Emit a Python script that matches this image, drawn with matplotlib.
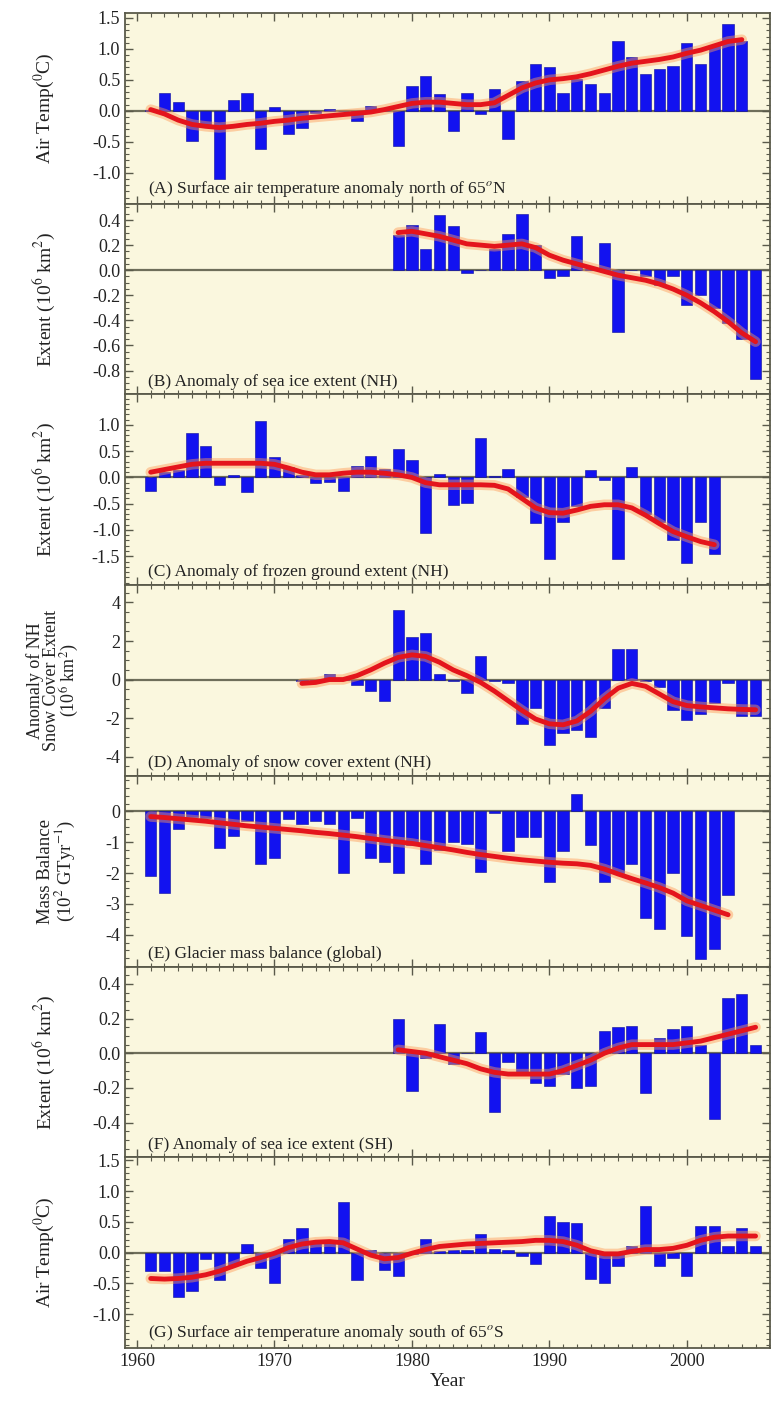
import numpy as np
import matplotlib
matplotlib.use('Agg')
import matplotlib.pyplot as plt
from matplotlib.ticker import MultipleLocator, FormatStrFormatter

plt.rcParams['font.family'] = ['Liberation Serif', 'DejaVu Serif']
plt.rcParams['mathtext.fontset'] = 'stix'

# ---------------- data ----------------
years_a = list(range(1961, 2005))
bars_a = [0.02, 0.28, 0.15, -0.48, -0.25, -1.1, 0.17, 0.29, -0.62, 0.06,
          -0.38, -0.27, -0.03, 0.03, 0.0, -0.17, 0.08, 0.0, -0.57, 0.4,
          0.56, 0.27, -0.33, 0.28, -0.05, 0.35, -0.45, 0.48, 0.75, 0.7,
          0.28, 0.52, 0.43, 0.28, 1.12, 0.87, 0.6, 0.68, 0.72, 1.1,
          0.76, 1.06, 1.4, 1.13]
trend_a = [0.02, -0.05, -0.15, -0.22, -0.25, -0.27, -0.25, -0.22, -0.2, -0.17,
           -0.15, -0.12, -0.1, -0.08, -0.06, -0.04, -0.02, 0.02, 0.07, 0.12,
           0.14, 0.14, 0.12, 0.1, 0.1, 0.13, 0.25, 0.37, 0.45, 0.5,
           0.52, 0.55, 0.6, 0.66, 0.72, 0.77, 0.8, 0.83, 0.87, 0.93,
           0.98, 1.05, 1.12, 1.15]

years_b = list(range(1979, 2006))
bars_b = [0.28, 0.36, 0.17, 0.44, 0.35, -0.02, 0.0, 0.17, 0.29, 0.45,
          0.2, -0.06, -0.05, 0.27, 0.01, 0.22, -0.49, 0.0, -0.05, -0.12,
          -0.05, -0.28, -0.2, -0.3, -0.42, -0.55, -0.87]
trend_b = [0.3, 0.31, 0.29, 0.27, 0.24, 0.21, 0.2, 0.19, 0.2, 0.21,
           0.18, 0.12, 0.08, 0.05, 0.02, -0.01, -0.04, -0.06, -0.08, -0.11,
           -0.15, -0.2, -0.26, -0.33, -0.41, -0.5, -0.57]

years_c = list(range(1961, 2003))
bars_c = [-0.26, 0.1, 0.15, 0.85, 0.6, -0.15, 0.05, -0.28, 1.07, 0.38,
          0.2, 0.05, -0.1, -0.08, -0.26, 0.22, 0.4, 0.17, 0.54, 0.33,
          -1.05, 0.07, -0.52, -0.48, 0.75, 0.03, 0.17, -0.38, -0.87, -1.55,
          -0.84, -0.55, 0.15, -0.05, -1.55, 0.2, -0.7, -0.85, -1.2, -1.62,
          -0.85, -1.45]
trend_c = [0.1, 0.15, 0.2, 0.25, 0.27, 0.27, 0.27, 0.27, 0.27, 0.25,
           0.18, 0.1, 0.05, 0.05, 0.08, 0.1, 0.1, 0.08, 0.05, 0.0,
           -0.1, -0.14, -0.14, -0.14, -0.14, -0.15, -0.22, -0.4, -0.58, -0.67,
           -0.68, -0.62, -0.55, -0.52, -0.52, -0.58, -0.72, -0.88, -1.03, -1.13,
           -1.22, -1.28]

years_d = list(range(1972, 2006))
bars_d = [-0.1, -0.1, 0.3, 0.1, -0.3, -0.6, -1.1, 3.6, 2.2, 2.4,
          0.3, -0.1, -0.7, 1.2, -0.1, -0.2, -2.3, -1.5, -3.4, -2.8,
          -2.6, -3.0, -1.5, 1.6, 1.6, -0.1, -0.4, -1.6, -2.1, -1.8,
          -1.2, -0.2, -1.9, -1.9]
trend_d = [-0.2, -0.15, 0.0, 0.0, 0.2, 0.5, 0.85, 1.15, 1.28, 1.2,
           0.9, 0.5, 0.2, -0.15, -0.6, -1.1, -1.6, -2.05, -2.3, -2.35,
           -2.15, -1.65, -1.0, -0.45, -0.2, -0.35, -0.75, -1.15, -1.35, -1.42,
           -1.47, -1.52, -1.55, -1.57]

years_e = list(range(1961, 2004))
bars_e = [-2.1, -2.65, -0.57, -0.18, -0.2, -1.2, -0.8, -0.3, -1.7, -1.5,
          -0.25, -0.4, -0.3, -0.4, -2.0, -0.2, -1.5, -1.65, -2.0, -1.1,
          -1.7, -1.25, -1.0, -1.05, -1.95, -0.05, -1.3, -0.83, -0.83, -2.3,
          -1.3, 0.55, -1.1, -2.3, -2.0, -1.7, -3.45, -3.8, -2.0, -4.05,
          -4.8, -4.45, -2.7]
trend_e = [-0.17, -0.2, -0.24, -0.28, -0.32, -0.37, -0.42, -0.47, -0.51, -0.55,
           -0.59, -0.63, -0.68, -0.72, -0.77, -0.82, -0.88, -0.94, -0.99, -1.04,
           -1.11, -1.18, -1.25, -1.33, -1.4, -1.46, -1.52, -1.57, -1.61, -1.65,
           -1.68, -1.7, -1.75, -1.87, -2.03, -2.18, -2.32, -2.47, -2.65, -2.9,
           -3.05, -3.2, -3.35]

years_f = list(range(1979, 2006))
bars_f = [0.2, -0.22, -0.03, 0.17, -0.06, 0.0, 0.12, -0.34, -0.05, -0.12,
          -0.17, -0.19, -0.12, -0.2, -0.19, 0.13, 0.15, 0.16, -0.23, 0.09,
          0.14, 0.16, 0.05, -0.38, 0.32, 0.34, 0.05]
trend_f = [0.02, 0.01, 0.0, -0.02, -0.04, -0.06, -0.09, -0.11, -0.12, -0.12,
           -0.12, -0.12, -0.1, -0.07, -0.04, 0.0, 0.03, 0.05, 0.05, 0.05,
           0.05, 0.06, 0.07, 0.09, 0.11, 0.13, 0.15]

years_g = list(range(1961, 2006))
bars_g = [-0.3, -0.3, -0.72, -0.63, -0.1, -0.45, -0.2, 0.14, -0.25, -0.5,
          0.22, 0.4, 0.18, 0.15, 0.82, -0.45, 0.05, -0.28, -0.38, -0.03,
          0.22, 0.02, 0.05, 0.05, 0.3, 0.06, 0.05, -0.05, -0.18, 0.6,
          0.5, 0.48, -0.43, -0.5, -0.22, 0.1, 0.76, -0.22, -0.08, -0.38,
          0.44, 0.43, 0.1, 0.4, 0.1]
trend_g = [-0.42, -0.43, -0.42, -0.4, -0.36, -0.3, -0.22, -0.14, -0.08, -0.01,
           0.08, 0.14, 0.17, 0.18, 0.16, 0.06, -0.04, -0.1, -0.08, -0.01,
           0.05, 0.1, 0.12, 0.14, 0.15, 0.16, 0.17, 0.18, 0.2, 0.2,
           0.18, 0.12, 0.03, -0.02, -0.02, 0.02, 0.05, 0.05, 0.07, 0.12,
           0.2, 0.25, 0.27, 0.27, 0.27]

panel_titles = [
    "(A) Surface air temperature anomaly north of 65$^{o}$N",
    "(B) Anomaly of sea ice extent (NH)",
    "(C) Anomaly of frozen ground extent (NH)",
    "(D) Anomaly of snow cover extent (NH)",
    "(E) Glacier mass balance (global)",
    "(F) Anomaly of sea ice extent (SH)",
    "(G) Surface air temperature anomaly south of 65$^{o}$S",
]
ylabels = [
    "Air Temp($^0$C)",
    "Extent (10$^6$ km$^2$)",
    "Extent (10$^6$ km$^2$)",
    "Anomaly of NH\nSnow Cover Extent\n(10$^6$ km$^2$)",
    "Mass Balance\n(10$^2$ GTyr$^{-1}$)",
    "Extent (10$^6$ km$^2$)",
    "Air Temp($^0$C)",
]
yticks = [
    [-1.0, -0.5, 0.0, 0.5, 1.0, 1.5],
    [-0.8, -0.6, -0.4, -0.2, 0.0, 0.2, 0.4],
    [-1.5, -1.0, -0.5, 0.0, 0.5, 1.0],
    [-4, -2, 0, 2, 4],
    [-4, -3, -2, -1, 0],
    [-0.4, -0.2, 0.0, 0.2, 0.4],
    [-1.0, -0.5, 0.0, 0.5, 1.0, 1.5],
]
xtick_years = [1960, 1970, 1980, 1990, 2000]

# ---------------- styling ----------------
ylims = [(-1.5, 1.58), (-0.99, 0.53), (-2.05, 1.58), (-5.0, 4.9),
         (-5.03, 1.15), (-0.6, 0.5), (-1.55, 1.55)]
fmts = ['%.1f', '%.1f', '%.1f', '%d', '%d', '%.1f', '%.1f']
minor_steps = [0.1, 0.05, 0.1, 0.5, 0.25, 0.05, 0.1]
ylabel_sizes = [14, 14, 14, 13, 13.5, 14, 14]
ylabel_x = [-0.105, -0.105, -0.105, -0.068, -0.075, -0.105, -0.105]

series = [(years_a, bars_a, trend_a), (years_b, bars_b, trend_b),
          (years_c, bars_c, trend_c), (years_d, bars_d, trend_d),
          (years_e, bars_e, trend_e), (years_f, bars_f, trend_f),
          (years_g, bars_g, trend_g)]

W, H = 771, 1413
fig = plt.figure(figsize=(W / 100, H / 100), dpi=100)
fig.patch.set_facecolor('white')

left_px, right_px = 125, 770
top_px, bottom_px = 13, 1348
ph = (bottom_px - top_px) / 7.0

bg = '#FAF7DE'
bar_col = '#1212F0'
spine_col = '#5a5a4a'

axes = []
for i in range(7):
    y0 = H - (top_px + (i + 1) * ph)
    ax = fig.add_axes([left_px / W, y0 / H, (right_px - left_px) / W, ph / H])
    axes.append(ax)
    yrs, bv, tv = series[i]
    ax.set_facecolor(bg)
    ax.axhline(0, color='#6e6e5a', lw=1.6, zorder=1)
    ax.bar(yrs, bv, width=0.82, color=bar_col, edgecolor='#0a0a9a',
           linewidth=0.4, zorder=2)
    ax.plot(yrs, tv, color='#ff9a55', lw=7.5, alpha=0.45,
            solid_capstyle='round', solid_joinstyle='round', zorder=3)
    ax.plot(yrs, tv, color='#e4141c', lw=3.5,
            solid_capstyle='round', solid_joinstyle='round', zorder=4)
    ax.set_xlim(1959.13, 2006.05)
    ax.set_ylim(*ylims[i])
    ax.set_yticks(yticks[i])
    ax.yaxis.set_major_formatter(FormatStrFormatter(fmts[i]))
    ax.yaxis.set_minor_locator(MultipleLocator(minor_steps[i]))
    ax.set_xticks(xtick_years)
    ax.xaxis.set_minor_locator(MultipleLocator(1))
    ax.tick_params(which='both', direction='in', top=True, right=True,
                   colors=spine_col, labelcolor='#222222')
    ax.tick_params(which='major', length=6, width=1.0, labelsize=13)
    ax.tick_params(which='minor', length=3, width=0.8)
    for s in ax.spines.values():
        s.set_color(spine_col)
        s.set_linewidth(1.3)
    if i < 6:
        ax.tick_params(axis='x', labelbottom=False)
    ax.set_ylabel(ylabels[i], fontsize=ylabel_sizes[i], linespacing=0.9,
                  color='#222222')
    ax.yaxis.set_label_coords(ylabel_x[i], 0.5)
    ax.text(0.035, 0.025, panel_titles[i], transform=ax.transAxes,
            fontsize=12.5, va='bottom', ha='left', color='#222222', zorder=6)

axes[-1].set_xlabel('Year', fontsize=14, color='#222222', labelpad=2)

fig.savefig('out.png', dpi=100, facecolor='white')
